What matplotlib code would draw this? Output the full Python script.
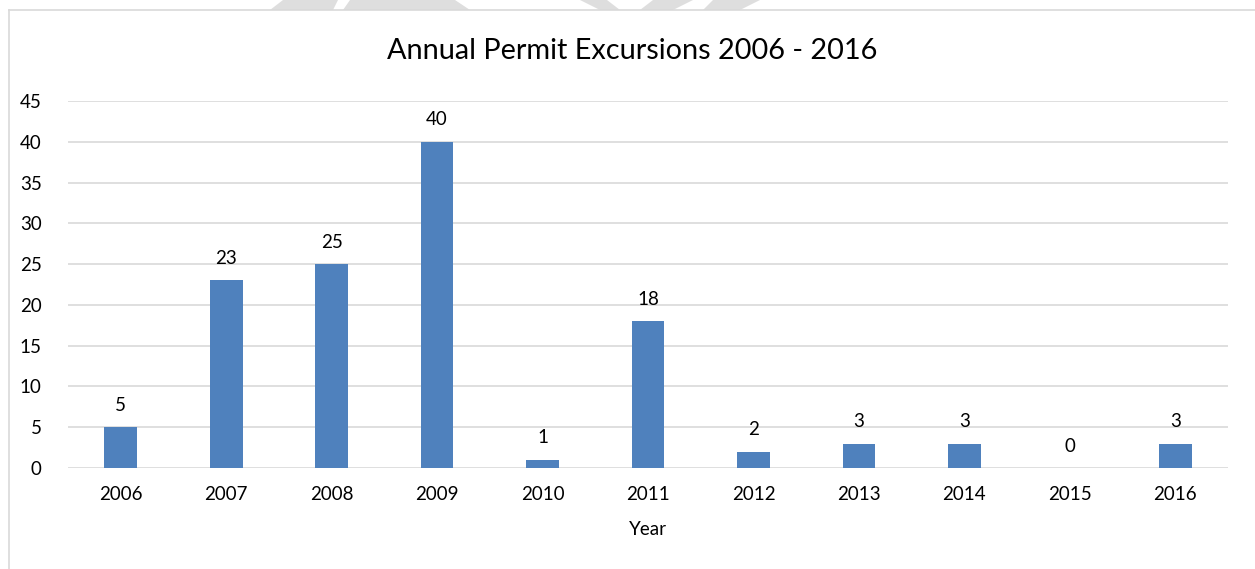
import matplotlib
matplotlib.use("Agg")
import matplotlib.pyplot as plt
from matplotlib.patches import Polygon
from matplotlib.lines import Line2D

years = ["2006", "2007", "2008", "2009", "2010", "2011", "2012", "2013", "2014", "2015", "2016"]
excursions = [5, 23, 25, 40, 1, 18, 2, 3, 3, 0, 3]
yticks = [0, 5, 10, 15, 20, 25, 30, 35, 40, 45]
title = "Annual Permit Excursions 2006 - 2016"
xlabel = "Year"

plt.rcParams['font.family'] = ['Lato', 'DejaVu Sans']

W, H = 1255, 569
fig = plt.figure(figsize=(W / 100, H / 100), dpi=100)
fig.patch.set_facecolor("white")

# faint watermark shapes above chart frame (pixel coords from top-left)
wm = [
    [(270, 10), (333, 10), (338, 0), (283, 0)],
    [(343, 10), (470, 10), (455, 0), (350, 0)],
    [(600, 10), (620, 10), (607, 0), (580, 0)],
    [(640, 10), (673, 10), (693, 0), (653, 0)],
    [(703, 10), (740, 10), (760, 0), (713, 0)],
]
for poly in wm:
    pts = [(x / W, 1 - y / H) for x, y in poly]
    fig.patches.append(Polygon(pts, closed=True, transform=fig.transFigure,
                               facecolor="#DEDEDE", edgecolor="none", zorder=0))

# chart frame (left and top visible)
fig.lines.append(Line2D([9 / W, 9 / W], [0, 1 - 10 / H], transform=fig.transFigure,
                        color="#D9D9D9", lw=1.2))
fig.lines.append(Line2D([9 / W, 1], [1 - 10 / H, 1 - 10 / H], transform=fig.transFigure,
                        color="#D9D9D9", lw=1.2))

left, right = 68 / W, 1228 / W
bottom, top = 1 - 468 / H, 1 - 101 / H
ax = fig.add_axes([left, bottom, right - left, top - bottom])
ax.set_facecolor("none")

x = list(range(len(years)))
bars = ax.bar(x, excursions, width=0.31, color="#4F81BD", zorder=3)
ax.set_xlim(-0.5, len(years) - 0.5)
ax.set_ylim(0, 45)
ax.set_yticks(yticks)
ax.set_yticklabels([str(t) for t in yticks])
ax.set_xticks(x)
ax.set_xticklabels(years)
ax.tick_params(axis="both", length=0, labelsize=13.5, colors="black")
ax.tick_params(axis="y", pad=19)
ax.tick_params(axis="x", pad=13)
ax.grid(axis="y", color="#D9D9D9", lw=1.2, zorder=0)
for s in ax.spines.values():
    s.set_visible(False)

for xi, v in zip(x, excursions):
    ax.annotate(str(v), (xi, v), xytext=(0, 22), textcoords="offset pixels",
                ha="center", va="center", fontsize=13.5, color="black")

ax.set_xlabel(xlabel, fontsize=13.5, labelpad=13, color="black")
fig.text(632 / W, 1 - 51 / H, title, ha="center", va="center",
         fontsize=20.8, color="black")

fig.savefig("out.png", dpi=100, facecolor="white")
